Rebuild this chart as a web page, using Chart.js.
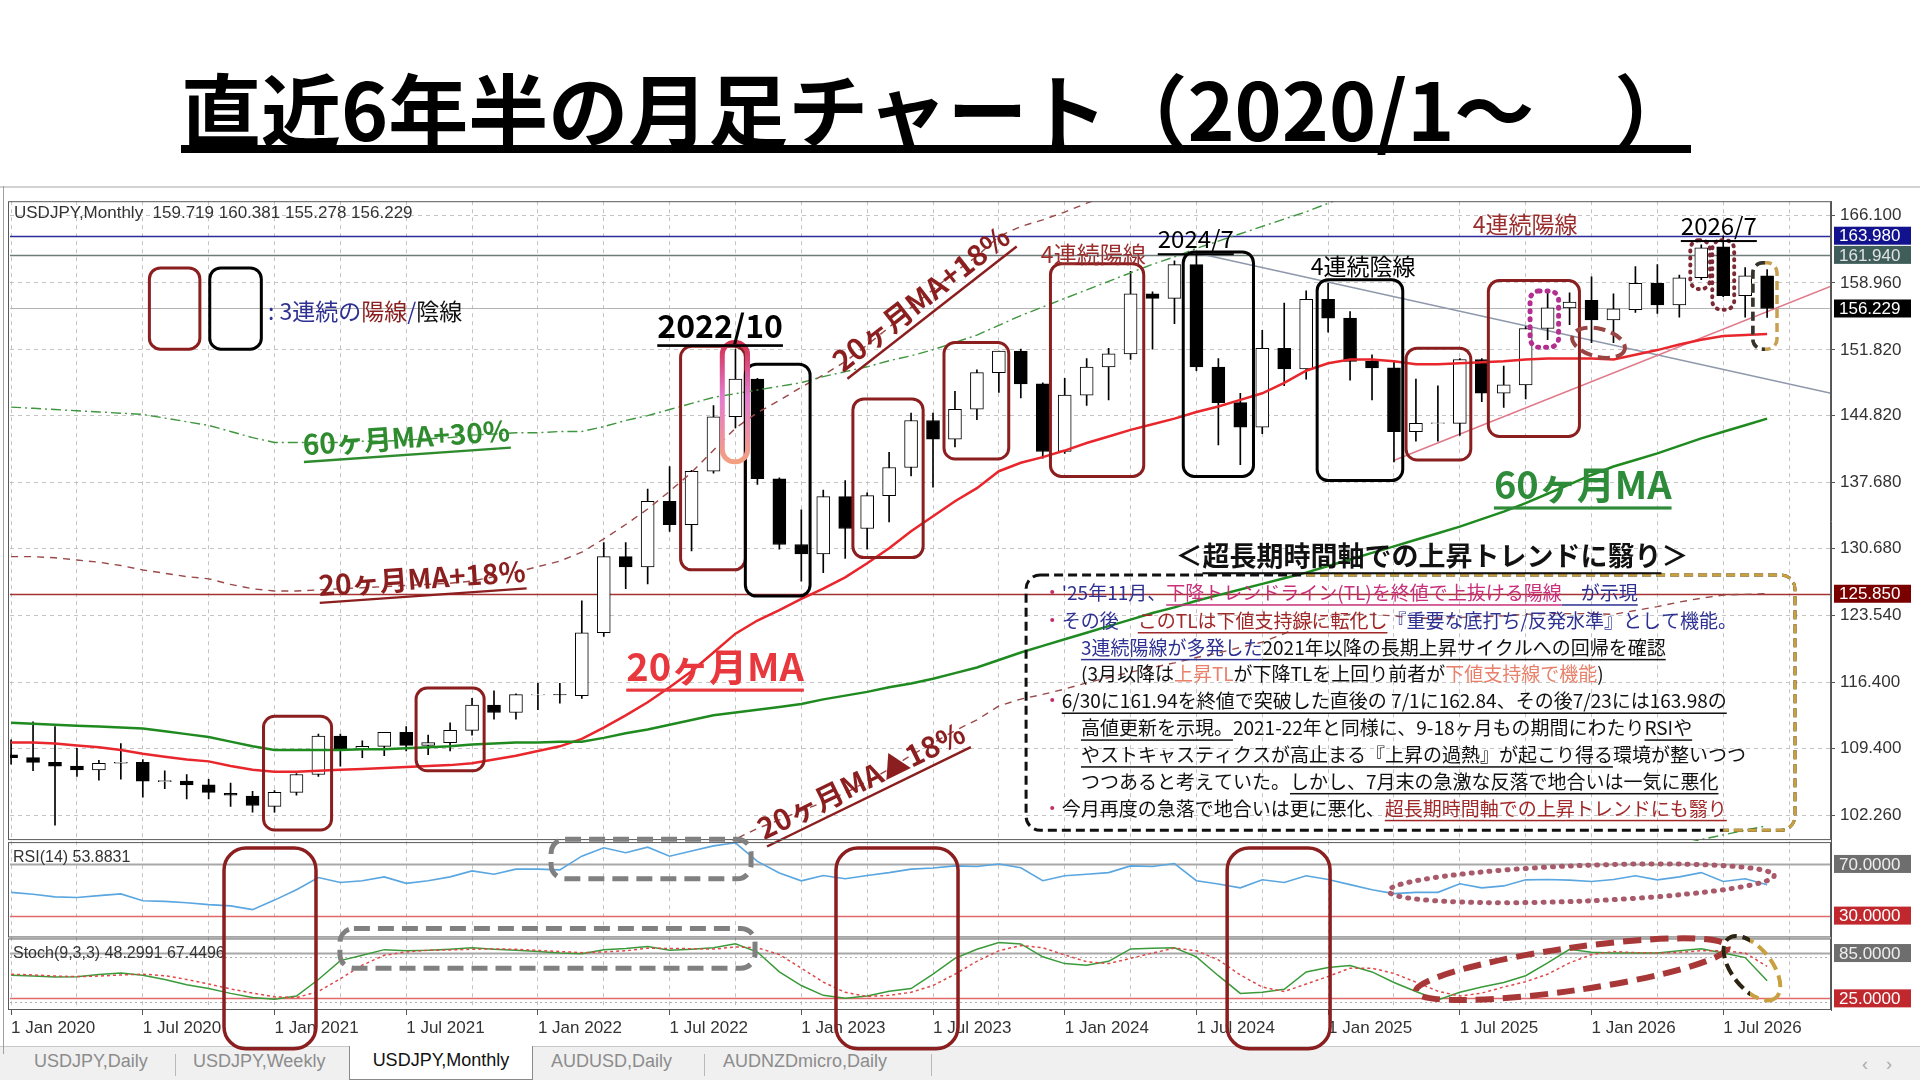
<!DOCTYPE html>
<html>
<head>
<meta charset="utf-8">
<script src="https://cdn.jsdelivr.net/npm/chart.js@4.4.1/dist/chart.umd.min.js"></script>
<style>
html, body { margin: 0; padding: 0; background: #fff; }
body { width: 1920px; height: 1080px; position: relative; overflow: hidden; }
#title {
    position: absolute; left: 181px; top: 66px; width: 1510px; height: 79px;
    border-bottom: 8px solid #000;
    font: bold 80px "Noto Sans CJK JP", sans-serif; line-height: 80px;
    white-space: nowrap; color: #000;
}
#win { position: absolute; left: 0; top: 186px; width: 1920px; height: 894px; border-top: 2px solid #d2d2d2; box-sizing: border-box; }
#tabs { position: absolute; left: 0; top: 1046px; width: 1920px; height: 34px; background: #f0f0f0; border-top: 1px solid #c8c8c8; }
.tab { position: absolute; top: 0; height: 32px; line-height: 32px; padding-top: 4px; box-sizing: border-box; font: 18px "Liberation Sans", Arial, sans-serif; color: #8c8c8c; white-space: nowrap; }
.tab.act { background: #fff; color: #111; border: 1px solid #8a8a8a; border-top: none; text-align: center; top: -1px; height: 34px; }
.sep { position: absolute; top: 7px; width: 1px; height: 22px; background: #b8b8b8; }
.arr { position: absolute; top: 7px; font: 18px "Liberation Sans", sans-serif; color: #aaa; }
#chart { position: absolute; left: 0; top: 186px; }
</style>
</head>
<body>
<div id="title">直近6年半の月足チャート（2020/1～　）</div>
<div id="win"></div>
<div id="tabs">
    <div class="tab" style="left:34px">USDJPY,Daily</div>
    <div class="sep" style="left:175px"></div>
    <div class="tab" style="left:193px">USDJPY,Weekly</div>
    <div class="tab act" style="left:349px;width:184px">USDJPY,Monthly</div>
    <div class="tab" style="left:551px">AUDUSD,Daily</div>
    <div class="sep" style="left:704px"></div>
    <div class="tab" style="left:723px">AUDNZDmicro,Daily</div>
    <div class="sep" style="left:931px"></div>
    <div class="arr" style="left:1862px">‹</div>
    <div class="arr" style="left:1886px">›</div>
</div>
<canvas id="chart" width="1920" height="868"></canvas>
<script>
// monthly candles, Jan 2020 .. Sep 2026
const OPEN = [
    108.7, 108.4, 107.9, 107.5, 107.1, 107.8, 107.9, 105.85, 105.9, 105.5,
    104.6, 104.3, 103.2, 104.7, 106.6, 110.7, 109.3, 109.6, 111.1, 109.7,
    110.0, 111.3, 114.0, 113.2, 115.08, 115.12, 115.0, 121.7, 129.8, 128.7,
    135.7, 133.2, 138.9, 144.7, 148.7, 138.1, 131.1, 130.1, 136.2, 132.8,
    136.3, 139.3, 144.3, 142.3, 145.5, 149.4, 151.7, 148.2, 141.0, 147.0,
    150.0, 151.4, 157.8, 157.3, 160.9, 150.0, 146.2, 143.6, 152.0, 149.8,
    157.2, 155.2, 150.6, 149.9, 143.1, 144.0, 144.0, 150.8, 147.2, 148.1,
    154.1, 156.3, 157.1, 155.0, 156.1, 158.9, 156.6, 159.5, 162.8, 157.6,
    159.719
];
const HIGH = [
    110.3, 112.2, 111.7, 109.4, 108.1, 109.9, 108.2, 107.0, 106.6, 106.1,
    105.7, 104.8, 104.9, 106.7, 110.9, 110.9, 110.2, 111.1, 111.7, 110.8,
    112.1, 114.7, 115.5, 115.2, 116.3, 116.3, 125.1, 131.3, 131.3, 137.0,
    139.4, 139.0, 145.9, 151.9, 148.8, 138.2, 134.8, 136.9, 137.9, 136.6,
    140.9, 145.1, 145.1, 147.4, 149.7, 151.7, 151.9, 148.3, 148.8, 150.9,
    152.0, 160.2, 158.0, 161.3, 162.0, 150.9, 147.2, 153.9, 156.8, 158.1,
    158.9, 155.9, 151.3, 150.5, 148.7, 148.0, 150.9, 150.9, 150.1, 154.3,
    158.1, 157.9, 159.6, 157.8, 160.7, 160.9, 159.8, 163.0, 163.98, 160.6,
    160.381
];
const LOW = [
    107.7, 107.0, 101.2, 106.4, 106.0, 106.1, 104.2, 105.1, 104.0, 104.0,
    103.2, 102.6, 102.6, 104.4, 106.4, 107.5, 108.4, 108.6, 109.1, 108.7,
    109.1, 110.8, 112.5, 112.5, 113.5, 114.2, 114.7, 121.3, 126.4, 126.9,
    132.5, 130.4, 138.7, 143.5, 137.5, 130.6, 127.2, 128.1, 129.6, 130.6,
    133.5, 138.4, 137.2, 141.5, 144.4, 147.3, 146.7, 140.3, 140.8, 145.9,
    146.5, 150.8, 151.9, 154.6, 149.6, 141.7, 139.6, 142.9, 148.0, 148.7,
    153.7, 148.6, 146.5, 139.9, 142.1, 142.1, 142.7, 146.3, 145.7, 146.6,
    152.9, 154.5, 152.6, 152.6, 155.8, 155.7, 155.3, 159.3, 157.5, 155.3,
    155.278
];
const CLOSE = [
    108.4, 107.9, 107.5, 107.1, 107.8, 107.9, 105.9, 105.95, 105.5, 104.7,
    104.4, 103.3, 104.7, 106.6, 110.7, 109.3, 109.6, 111.1, 109.7, 110.0,
    111.3, 114.0, 113.2, 115.1, 115.12, 115.08, 121.7, 129.8, 128.7, 135.7,
    133.2, 138.9, 144.7, 148.7, 138.1, 131.1, 130.1, 136.2, 132.8, 136.3,
    139.3, 144.3, 142.3, 145.5, 149.4, 151.7, 148.2, 141.0, 147.0, 150.0,
    151.4, 157.8, 157.3, 160.9, 150.0, 146.2, 143.6, 152.0, 149.8, 157.2,
    155.2, 150.6, 149.9, 143.1, 144.0, 144.05, 150.8, 147.2, 148.1, 154.1,
    156.3, 156.9, 155.0, 156.2, 158.9, 156.6, 159.5, 162.7, 157.6, 159.7,
    156.229
];

// moving averages
const MA20 = [
    110.0, 110.0, 109.9, 109.7, 109.5, 109.2, 108.8, 108.5, 108.2, 108.0,
    107.5, 107.1, 106.9, 106.9, 107.0, 107.1, 107.2, 107.3, 107.4, 107.5,
    107.6, 107.8, 108.2, 108.6, 109.1, 109.6, 110.4, 111.6, 112.9, 114.3,
    115.9, 117.6, 119.6, 121.6, 123.0, 124.1, 125.3, 126.4, 127.6, 129.1,
    130.7, 132.5, 134.1, 135.7, 137.1, 138.9, 139.8, 140.4, 141.1, 141.9,
    142.6, 143.3, 143.9, 144.5, 145.2, 145.8, 146.5, 147.2, 148.3, 149.6,
    150.4, 150.8, 150.8, 150.6, 150.3, 150.3, 150.4, 150.5, 150.6, 150.8,
    150.9, 150.9, 150.9, 150.8, 151.3, 151.8, 152.4, 152.9, 153.3, 153.4,
    153.5
];
const MA60 = [
    112.1, 112.0, 111.9, 111.8, 111.7, 111.6, 111.5, 111.2, 110.9, 110.6,
    110.1, 109.6, 109.2, 109.2, 109.2, 109.2, 109.3, 109.3, 109.4, 109.5,
    109.6, 109.8, 109.9, 110.0, 110.0, 110.1, 110.1, 110.5, 111.0, 111.4,
    111.9, 112.4, 112.9, 113.2, 113.5, 113.8, 114.1, 114.6, 115.0, 115.4,
    115.9, 116.3, 116.8, 117.4, 118.0, 118.8, 119.6, 120.3, 121.0, 121.7,
    122.4, 123.1, 123.8, 124.4, 125.1, 125.7, 126.3, 126.9, 127.5, 128.1,
    128.8, 129.5, 130.2, 130.9, 131.6, 132.3, 133.0, 133.8, 134.6, 135.5,
    136.5, 137.5, 138.5, 139.4, 140.1, 140.8, 141.6, 142.4, 143.1, 143.8,
    144.5
];

// oscillators
const RSI = [
    48.0, 46.5, 44.5, 44.0, 45.5, 46.8, 41.5, 41.0, 40.0, 38.5,
    37.5, 34.6, 42.0, 50.0, 59.5, 55.6, 57.0, 60.0, 55.0, 57.0,
    60.0, 64.6, 62.0, 66.0, 66.0, 65.4, 76.0, 82.5, 78.7, 83.0,
    76.0, 80.0, 84.0, 86.4, 72.0, 63.0, 56.9, 61.0, 58.5, 61.0,
    63.3, 66.0, 66.9, 68.5, 68.0, 70.0, 67.0, 57.0, 60.8, 62.0,
    63.3, 68.5, 68.0, 70.3, 57.0, 54.5, 51.5, 57.7, 55.6, 60.8,
    58.0, 54.0, 50.0, 47.0, 48.0, 48.0, 54.6, 51.5, 53.0, 57.7,
    58.0, 57.5, 56.4, 58.0, 60.8, 57.7, 60.0, 63.3, 56.4, 58.5,
    53.9
];
const STOCH_K = [
    55.7, 54.5, 53.4, 53.5, 56.5, 58.7, 55.7, 50.0, 43.0, 38.0,
    31.6, 26.0, 23.7, 28.0, 50.0, 75.0, 82.0, 89.5, 88.0, 88.6,
    90.0, 92.0, 90.0, 88.6, 87.0, 85.0, 84.2, 89.5, 91.0, 93.8,
    88.6, 90.0, 92.0, 97.3, 86.3, 60.0, 42.0, 29.0, 25.0, 28.0,
    34.5, 38.0, 57.0, 78.0, 90.0, 99.0, 97.0, 80.0, 71.0, 69.0,
    74.0, 90.5, 91.5, 92.0, 80.0, 55.0, 31.6, 33.0, 37.0, 60.0,
    66.0, 68.5, 60.0, 46.0, 34.0, 23.0, 33.0, 40.0, 46.0, 55.0,
    72.0, 90.0, 86.0, 85.0, 85.0, 85.0, 88.0, 90.8, 85.0, 79.0,
    48.3
];
const STOCH_D = [
    57.0, 56.0, 54.5, 53.8, 54.5, 56.0, 57.0, 55.0, 50.0, 44.0,
    37.5, 32.0, 27.0, 26.0, 34.0, 51.0, 69.0, 82.0, 86.5, 88.7,
    89.0, 90.0, 90.5, 90.0, 88.5, 87.0, 85.5, 86.5, 88.0, 91.5,
    91.0, 90.8, 90.2, 93.0, 92.0, 83.0, 65.0, 46.5, 33.0, 27.5,
    29.0, 33.0, 42.0, 57.0, 74.0, 88.0, 95.0, 92.0, 82.5, 73.5,
    71.0, 78.0, 85.0, 91.5, 88.0, 76.0, 56.0, 40.0, 34.0, 44.0,
    54.0, 65.0, 65.0, 58.0, 46.5, 34.5, 28.0, 32.0, 40.0, 47.0,
    57.0, 72.0, 83.0, 87.0, 85.5, 85.0, 86.0, 88.0, 88.0, 85.0,
    67.4
];

const X_TICK_LABELS = [
    '1 Jan 2020', '1 Jul 2020', '1 Jan 2021', '1 Jul 2021', '1 Jan 2022',
    '1 Jul 2022', '1 Jan 2023', '1 Jul 2023', '1 Jan 2024', '1 Jul 2024',
    '1 Jan 2025', '1 Jul 2025', '1 Jan 2026', '1 Jul 2026'
];
const X_GRID = [0, 3, 6, 9, 12, 15, 18, 21, 24, 27, 30, 33, 36, 39, 42, 45, 48, 51, 54, 57, 60, 63, 66, 69, 72, 75, 78, 81];
const PRICE_TICKS = [102.26, 109.4, 116.4, 123.54, 130.68, 137.68, 144.82, 151.82, 158.96, 166.1];

const JP = '"Noto Sans CJK JP", sans-serif';
const UI = '"Liberation Sans", Arial, sans-serif';

// annotation layout (data units: month index, price / indicator value)
const BOXES = [
    [11.5, 14.6, 112.8, 100.7, '#8b1e1e'],
    [18.45, 21.55, 115.8, 107.0, '#8b1e1e'],
    [30.5, 33.45, 152.2, 128.4, '#8b1e1e'],
    [33.45, 36.4, 150.3, 125.6, '#000'],
    [38.35, 41.55, 146.6, 129.7, '#8b1e1e'],
    [42.5, 45.45, 152.6, 140.2, '#8b1e1e'],
    [47.35, 51.6, 161.0, 138.35, '#8b1e1e'],
    [53.4, 56.6, 162.25, 138.35, '#000'],
    [59.5, 63.4, 159.3, 137.9, '#000'],
    [63.55, 66.5, 152.0, 140.1, '#8b1e1e'],
    [67.3, 71.45, 159.2, 142.6, '#8b1e1e'],
    [6.3, 8.6, 160.55, 151.9, '#8b1e1e'],
    [9.05, 11.4, 160.55, 151.9, '#000']
];
const LABELS = [
    ['2022/10', 32.3, 154.4, 'bold 32px', '#000', 0, true],
    ['20ヶ月MA+18%', 41.45, 157.3, 'bold 29px', '#8b1e1e', -38, true],
    ['60ヶ月MA+30%', 18.0, 142.5, 'bold 28px', '#2e8b2e', -4, true],
    ['20ヶ月MA+18%', 18.72, 127.5, 'bold 28px', '#8b1e1e', -4, true],
    ['20ヶ月MA', 32.07, 118.1, 'bold 38px', '#e8383d', 0, true],
    ['20ヶ月MA▲18%', 38.72, 105.95, 'bold 29px', '#8b1e1e', -26, true],
    ['60ヶ月MA', 71.6, 137.5, 'bold 38px', '#2e8b3a', 0, true],
    ['4連続陽線', 49.3, 162.0, '23px', '#9b2d2d', 0, false],
    ['2024/7', 53.97, 163.6, '24px', '#000', 0, true],
    ['4連続陰線', 61.6, 160.7, '23px', '#000', 0, false],
    ['4連続陽線', 68.97, 165.2, '23px', '#9b2d2d', 0, false],
    ['2026/7', 77.8, 165.0, '24px', '#000', 0, true]
];
const NOTE_Y = [125.95, 122.99, 120.13, 117.28, 114.42, 111.56, 108.7, 105.85, 102.99];
const NOTE_LINES = [
    [0, [['・', '#c0306a'], ["'25年11月、", '#2e3192'], ['下降トレンドライン(TL)を終値で上抜ける陽線', '#c8307a', 1], ['　が示現', '#2e3192', 1]]],
    [0, [['・', '#c0306a'], ['その後　', '#2e3192'], ['このTLは下値支持線に転化し', '#a02828', 1], ['『重要な底打ち/反発水準』として機能。', '#2e3192']]],
    [1, [['3連続陽線が多発した', '#2e3192', 1], ['2021年以降の長期上昇サイクルへの回帰を確認', '#111', 1]]],
    [1, [['(3月以降は', '#111'], ['上昇TL', '#e8806a'], ['が下降TLを上回り前者が', '#111'], ['下値支持線で機能', '#e8806a'], [')', '#111']]],
    [0, [['・', '#c0306a'], ['6/30に161.94を終値で突破した直後の 7/1に162.84、その後7/23には163.98の', '#111', 1]]],
    [1, [['高値更新を示現。', '#111', 1], ['2021-22年と同様に、9-18ヶ月もの期間にわたり', '#111'], ['RSIや', '#111', 1]]],
    [1, [['やストキャスティクスが高止まる『上昇の過熱』が起こり得る', '#111', 1], ['環境が整いつつ', '#111']]],
    [1, [['つつあると考えていた。', '#111'], ['しかし、7月末の急激な反落で地合いは一気に悪化', '#111', 1]]],
    [0, [['・', '#c0306a'], ['今月再度の急落で地合いは更に悪化、', '#111'], ['超長期時間軸での上昇トレンドにも翳り', '#a02828', 1]]]
];

function segs(ctx, list, x, y, size) {
    for (const [t, col, u] of list) {
        ctx.fillStyle = col;
        ctx.fillText(t, x, y);
        const w = ctx.measureText(t).width;
        if (u) ctx.fillRect(x, y + size * 0.6, w, Math.max(1.5, size / 13));
        x += w;
    }
    return x;
}

function segsWidth(ctx, list) {
    return list.reduce((s, l) => s + ctx.measureText(l[0]).width, 0);
}

function rrect(ctx, x1, y1, x2, y2, r) {
    ctx.beginPath();
    ctx.roundRect(Math.min(x1, x2), Math.min(y1, y2), Math.abs(x2 - x1), Math.abs(y2 - y1), r);
}

const overlay = {
    id: 'overlay',
    beforeDatasetDraw(chart, args) {
        const ys = args.meta.yScale, ca = chart.chartArea, ctx = chart.ctx;
        ctx.save();
        ctx.beginPath();
        ctx.rect(ca.left, ys.top, ca.right - ca.left, ys.bottom - ys.top);
        ctx.clip();
    },
    afterDatasetDraw(chart) {
        chart.ctx.restore();
    },
    beforeDatasetsDraw(chart) {
        const {ctx, chartArea: ca, scales: S} = chart;
        const X = v => S.x.getPixelForValue(v);
        ctx.save();
        const hl = (sc, v, col, w, dash) => {
            const yy = Math.round(sc.getPixelForValue(v)) + 0.5;
            ctx.strokeStyle = col;
            ctx.lineWidth = w;
            ctx.setLineDash(dash || []);
            ctx.beginPath();
            ctx.moveTo(ca.left, yy);
            ctx.lineTo(ca.right, yy);
            ctx.stroke();
        };
        hl(S.y, 163.98, '#2b2b9c', 1.3);
        hl(S.y, 161.94, '#6d7c7a', 1.3);
        hl(S.y, 156.229, '#b4b4b4', 1);
        hl(S.y, 125.85, '#a53232', 1.3);
        hl(S.rsi, 70, '#a8a8a8', 2);
        hl(S.rsi, 30, '#e06a6a', 1.3);
        hl(S.sto, 80, '#b0b0b0', 1, [2, 3]);
        hl(S.sto, 20, '#b0b0b0', 1, [2, 3]);
        hl(S.sto, 85, '#a8a8a8', 2);
        hl(S.sto, 25, '#e06a6a', 1.3);

        // trend lines
        ctx.setLineDash([]);
        ctx.beginPath();
        ctx.rect(ca.left, S.y.top, ca.right - ca.left, S.y.bottom - S.y.top);
        ctx.clip();
        ctx.lineWidth = 1.5;
        ctx.strokeStyle = '#8e98aa';
        ctx.beginPath();
        ctx.moveTo(X(54.0), S.y.getPixelForValue(162.15));
        ctx.lineTo(X(82.91), S.y.getPixelForValue(147.2));
        ctx.stroke();
        ctx.strokeStyle = '#e07888';
        ctx.beginPath();
        ctx.moveTo(X(62.96), S.y.getPixelForValue(140.02));
        ctx.lineTo(X(82.91), S.y.getPixelForValue(158.6));
        ctx.stroke();
        ctx.restore();
    },
    afterDatasetsDraw(chart) {
        const {ctx, chartArea: ca, scales: S} = chart;
        const X = v => S.x.getPixelForValue(v);
        const Y = v => S.y.getPixelForValue(v);
        ctx.save();

        // header
        ctx.font = '17px ' + UI;
        ctx.fillStyle = '#333';
        ctx.textAlign = 'left';
        ctx.textBaseline = 'middle';
        ctx.fillText('USDJPY,Monthly  159.719 160.381 155.278 156.229', ca.left + 4, S.y.top + 12);

        // rounded boxes
        ctx.lineWidth = 3;
        ctx.setLineDash([]);
        for (const [m1, m2, p1, p2, col] of BOXES) {
            ctx.strokeStyle = col;
            rrect(ctx, X(m1), Y(p1), X(m2), Y(p2), 11);
            ctx.stroke();
        }
        // 2022/10 highlight
        const py1 = Y(152.6), py2 = Y(139.9);
        const g = ctx.createLinearGradient(0, py1, 0, py2);
        g.addColorStop(0, '#d0304e');
        g.addColorStop(0.45, '#e47ad0');
        g.addColorStop(1, '#f2a080');
        ctx.strokeStyle = g;
        ctx.lineWidth = 5;
        rrect(ctx, X(32.4), py1, X(33.55), py2, 12);
        ctx.stroke();

        // dotted / dashed markers
        ctx.lineCap = 'round';
        ctx.strokeStyle = '#b22f8f';
        ctx.lineWidth = 5;
        ctx.setLineDash([1, 7]);
        rrect(ctx, X(69.2), Y(158.1), X(70.5), Y(152.1), 9);
        ctx.stroke();
        ctx.strokeStyle = '#7b2a35';
        ctx.lineWidth = 4;
        ctx.setLineDash([1, 6]);
        rrect(ctx, X(76.5), Y(163.5), X(77.4), Y(158.3), 9);
        ctx.stroke();
        rrect(ctx, X(77.5), Y(163.5), X(78.5), Y(156.1), 9);
        ctx.stroke();
        ctx.lineCap = 'butt';
        ctx.strokeStyle = '#9a4444';
        ctx.setLineDash([12, 6]);
        ctx.beginPath();
        ctx.ellipse(X(72.32), Y(152.58), 27, 14, 0.25, 0, Math.PI * 2);
        ctx.stroke();
        // last candle marker: gold right, black left
        const q = [X(79.35), Y(161.1), X(80.45), Y(151.9)];
        ctx.lineWidth = 3.5;
        ctx.setLineDash([9, 5]);
        ctx.strokeStyle = '#c8a050';
        rrect(ctx, q[0], q[1], q[2], q[3], 10);
        ctx.stroke();
        ctx.save();
        ctx.beginPath();
        ctx.rect(q[0] - 6, q[1] - 6, (q[2] - q[0]) / 2 + 6, q[3] - q[1] + 12);
        ctx.clip();
        ctx.strokeStyle = '#333';
        rrect(ctx, q[0], q[1], q[2], q[3], 10);
        ctx.stroke();
        ctx.restore();

        // labels
        ctx.setLineDash([]);
        ctx.textAlign = 'center';
        ctx.textBaseline = 'middle';
        for (const [t, m, p, f, col, rot, u] of LABELS) {
            ctx.save();
            ctx.translate(X(m), Y(p));
            ctx.rotate(rot * Math.PI / 180);
            ctx.font = f + ' ' + JP;
            ctx.fillStyle = col;
            ctx.fillText(t, 0, 0);
            if (u) {
                const size = parseFloat(f.replace('bold ', ''));
                const w = ctx.measureText(t).width;
                ctx.fillRect(-w / 2, size * 0.58, w, Math.max(1.5, size / 12));
            }
            ctx.restore();
        }

        // legend
        ctx.textAlign = 'left';
        ctx.font = '23px ' + JP;
        segs(ctx, [[': 3連続の', '#2e3192'], ['陽線', '#8b1e1e'], ['/', '#2e3192'], ['陰線', '#111']], X(11.7), Y(155.9), 23);

        // note box
        const bx1 = X(46.24), bx2 = X(81.27), by1 = Y(127.85), by2 = Y(100.67);
        ctx.lineWidth = 3;
        ctx.setLineDash([9, 5]);
        ctx.strokeStyle = '#111';
        rrect(ctx, bx1, by1, bx2, by2, 14);
        ctx.stroke();
        ctx.save();
        const sT = X(59.0), sB = X(78.0);
        ctx.beginPath();
        ctx.moveTo(sT, by1 - 10);
        ctx.lineTo(bx2 + 10, by1 - 10);
        ctx.lineTo(bx2 + 10, by2 + 10);
        ctx.lineTo(sB, by2 + 10);
        ctx.lineTo(sB, by1 + 20);
        ctx.lineTo(sT, by1 + 20);
        ctx.closePath();
        ctx.moveTo(bx2 - 30, by1 + 20);
        ctx.rect(bx2 - 30, by1 + 20, 40, by2 - by1);
        ctx.clip();
        ctx.strokeStyle = '#c8a040';
        rrect(ctx, bx1, by1, bx2, by2, 14);
        ctx.stroke();
        ctx.restore();
        ctx.setLineDash([]);

        // note heading
        ctx.font = 'bold 27px ' + JP;
        const head = [['＜', '#111'], ['超長期時間軸での上昇トレンドに翳り', '#111', 1], ['＞', '#111']];
        const hw = segsWidth(ctx, head);
        segs(ctx, head, X(64.73) - hw / 2, Y(129.87), 27);

        ctx.font = '19px ' + JP;
        NOTE_LINES.forEach(([ind, list], i) => {
            segs(ctx, list, ind ? X(48.74) : X(47.0), Y(NOTE_Y[i]), 19);
        });
        ctx.restore();
    },
    afterDraw(chart) {
        const {ctx, chartArea: ca, scales: S} = chart;
        const X = v => S.x.getPixelForValue(v);
        ctx.save();
        ctx.setLineDash([]);

        // panel frames
        ctx.strokeStyle = '#5a5a5a';
        ctx.lineWidth = 1;
        const w = ca.right - ca.left + 1;
        ctx.strokeRect(ca.left - 1.5, S.y.top + 0.5, w, S.y.bottom - S.y.top - 2);
        ctx.strokeRect(ca.left - 1.5, S.rsi.top + 1.5, w, S.rsi.bottom - S.rsi.top - 3);
        ctx.strokeRect(ca.left - 1.5, S.sto.top + 0.5, w, S.sto.bottom - S.sto.top - 1);
        ctx.strokeStyle = '#a0a0a0';
        ctx.beginPath();
        ctx.moveTo(3.5, 0);
        ctx.lineTo(3.5, chart.height);
        ctx.stroke();

        // indicator captions
        ctx.font = '16px ' + UI;
        ctx.fillStyle = '#333';
        ctx.textAlign = 'left';
        ctx.textBaseline = 'middle';
        ctx.fillText('RSI(14) 53.8831', ca.left + 3, S.rsi.top + 17);
        ctx.fillText('Stoch(9,3,3) 48.2991 67.4496', ca.left + 3, S.sto.top + 15);

        // value tags on the right axis
        const tag = (sc, v, txt, bg, fg) => {
            const yy = sc.getPixelForValue(v);
            ctx.fillStyle = bg;
            ctx.fillRect(ca.right + 3, yy - 9, 77, 18);
            ctx.fillStyle = fg;
            ctx.font = '17px ' + UI;
            ctx.fillText(txt, ca.right + 8, yy + 1);
        };
        tag(S.y, 163.98, '163.980', '#12128e', '#fff');
        tag(S.y, 161.94, '161.940', '#3f5e5a', '#e2e2e2');
        tag(S.y, 156.229, '156.229', '#000', '#fff');
        tag(S.y, 125.85, '125.850', '#7a0000', '#fff');
        tag(S.rsi, 70, '70.0000', '#6e6e6e', '#eee');
        tag(S.rsi, 30, '30.0000', '#c0282d', '#fff');
        tag(S.sto, 85, '85.0000', '#6e6e6e', '#eee');
        tag(S.sto, 25, '25.0000', '#c0282d', '#fff');

        // gray dashed highlights in the oscillator panels
        ctx.strokeStyle = '#808080';
        ctx.lineWidth = 5;
        ctx.setLineDash([16, 8]);
        rrect(ctx, X(24.6), S.rsi.getPixelForValue(89.2), X(33.71), S.rsi.getPixelForValue(58.5), 14);
        ctx.stroke();
        rrect(ctx, X(14.98), S.sto.getPixelForValue(117.5), X(33.89), S.sto.getPixelForValue(64.9), 14);
        ctx.stroke();

        // RSI dotted ellipse
        const mpx = X(1) - X(0);
        const rU = S.rsi.getPixelForValue(0) - S.rsi.getPixelForValue(1);
        const sU = S.sto.getPixelForValue(0) - S.sto.getPixelForValue(1);
        ctx.strokeStyle = '#a85a6a';
        ctx.lineCap = 'round';
        ctx.setLineDash([1, 8]);
        ctx.beginPath();
        ctx.ellipse(X(71.54), S.rsi.getPixelForValue(55), 8.79 * mpx, 13.8 * rU, -0.04, 0, Math.PI * 2);
        ctx.stroke();
        ctx.lineCap = 'butt';

        // stoch dashed ellipse
        ctx.strokeStyle = '#a83838';
        ctx.lineWidth = 6;
        ctx.setLineDash([18, 9]);
        ctx.beginPath();
        ctx.ellipse(X(71.1), S.sto.getPixelForValue(63.6), 7.18 * mpx, 28.3 * sU, -0.143, 0, Math.PI * 2);
        ctx.stroke();

        // end marker in stoch: gold with black left half
        const ex = X(79.31), ey = S.sto.getPixelForValue(64.9);
        ctx.lineWidth = 4;
        ctx.setLineDash([12, 6]);
        ctx.strokeStyle = '#c8a040';
        ctx.beginPath();
        ctx.ellipse(ex, ey, 38, 20, 0.9, 0, Math.PI * 2);
        ctx.stroke();
        ctx.save();
        ctx.beginPath();
        ctx.rect(ex - 50, ey - 50, 48, 100);
        ctx.clip();
        ctx.strokeStyle = '#2a2418';
        ctx.beginPath();
        ctx.ellipse(ex, ey, 38, 20, 0.9, 0, Math.PI * 2);
        ctx.stroke();
        ctx.restore();

        // cross-panel red frames
        ctx.strokeStyle = '#8b1e1e';
        ctx.lineWidth = 3.5;
        ctx.setLineDash([]);
        for (const [m1, m2] of [[9.7, 13.89], [37.58, 43.14], [55.4, 60.09]]) {
            rrect(ctx, X(m1), S.rsi.getPixelForValue(82.3), X(m2), S.sto.getPixelForValue(-41.7), 22);
            ctx.stroke();
        }
        ctx.restore();
    }
};

const idx = OPEN.map((_, i) => i);
const pts = arr => arr.map((v, i) => ({x: i, y: v}));
const lineDs = (data, axis, color, width, dash, order) => ({
    type: 'line', data, yAxisID: axis, borderColor: color, borderWidth: width,
    borderDash: dash || [], pointRadius: 0, tension: 0, order: order || 2
});

Chart.defaults.font.family = UI;

new Chart(document.getElementById('chart'), {
    type: 'bar',
    data: {
        datasets: [
            {
                label: 'wick',
                data: idx.map(i => ({x: i, y: [LOW[i], HIGH[i]]})),
                yAxisID: 'y',
                barThickness: 1,
                backgroundColor: '#000',
                borderWidth: 0,
                grouped: false,
                order: 10
            },
            {
                label: 'body',
                data: idx.map(i => ({x: i, y: [OPEN[i], CLOSE[i]]})),
                yAxisID: 'y',
                barThickness: 13,
                backgroundColor: idx.map(i => CLOSE[i] >= OPEN[i] ? '#fff' : '#000'),
                borderColor: '#000',
                borderWidth: 1,
                borderSkipped: false,
                grouped: false,
                order: 9
            },
            lineDs(pts(MA60.map(v => v * 1.3)), 'y', '#3f963f', 1.4, [10, 4, 2, 4], 5),
            lineDs(pts(MA60.map(v => v * 0.7)), 'y', '#3f963f', 1.4, [10, 4, 2, 4], 5),
            lineDs(pts(MA20.map(v => v * 1.18)), 'y', '#9a4848', 1.4, [7, 6], 5),
            lineDs(pts(MA20.map(v => v * 0.82)), 'y', '#9a4848', 1.4, [7, 6], 5),
            lineDs(pts(MA60), 'y', '#1f8a1f', 2.5, null, 3),
            lineDs(pts(MA20), 'y', '#e8262b', 2.5, null, 3),
            lineDs(pts(RSI), 'rsi', '#5aa6e0', 1.6),
            lineDs(pts(STOCH_D), 'sto', '#e04848', 1.5, [3, 3]),
            lineDs(pts(STOCH_K), 'sto', '#3a9a3a', 1.5)
        ]
    },
    options: {
        responsive: false,
        animation: false,
        devicePixelRatio: 1,
        events: [],
        layout: {padding: {left: 10, top: 10, right: 0, bottom: 14}},
        plugins: {legend: {display: false}, tooltip: {enabled: false}},
        scales: {
            x: {
                type: 'linear',
                min: -0.05,
                max: 82.91,
                offset: false,
                afterBuildTicks: s => { s.ticks = X_GRID.map(v => ({value: v})); },
                afterFit: s => { s.height = 30; },
                ticks: {
                    autoSkip: false, maxRotation: 0, align: 'start', padding: 3,
                    color: '#333', font: {size: 17},
                    callback: v => v % 6 === 0 ? X_TICK_LABELS[v / 6] : ''
                },
                grid: {
                    color: '#c4c4c4', offset: false, tickLength: 5, tickBorderDash: [],
                    tickColor: c => (c.tick && c.tick.value % 6 === 0) ? '#555' : 'rgba(0,0,0,0)'
                },
                border: {display: false, dash: [4, 4]}
            },
            y: {
                position: 'right', stack: 'panes', stackWeight: 644,
                min: 99.51, max: 167.656,
                afterBuildTicks: s => { s.ticks = PRICE_TICKS.map(v => ({value: v})); },
                afterFit: s => { s.width = 89; },
                ticks: {color: '#333', font: {size: 17}, padding: 5, callback: v => v.toFixed(3)},
                grid: {color: '#c4c4c4', tickLength: 4, tickColor: '#555', tickBorderDash: []},
                border: {display: true, color: '#555', dash: [4, 4]}
            },
            rsi: {
                position: 'right', stack: 'panes', stackWeight: 98,
                min: 12.3, max: 87.7,
                afterBuildTicks: s => { s.ticks = []; },
                afterFit: s => { s.width = 89; },
                ticks: {display: false},
                grid: {display: false},
                border: {display: true, color: '#555'}
            },
            sto: {
                position: 'right', stack: 'panes', stackWeight: 72,
                min: 9.6, max: 104.3,
                afterBuildTicks: s => { s.ticks = []; },
                afterFit: s => { s.width = 89; },
                ticks: {display: false},
                grid: {display: false},
                border: {display: true, color: '#555'}
            }
        }
    },
    plugins: [overlay]
});
</script>
</body>
</html>
